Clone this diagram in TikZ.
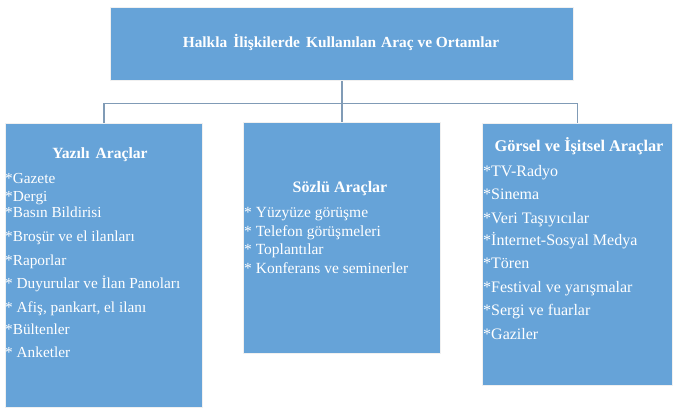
\documentclass[tikz,border=0pt]{standalone}
\usepackage{fontspec}
\setmainfont{Liberation Serif}
\usetikzlibrary{calc}
\definecolor{boxblue}{RGB}{102,163,216}
\definecolor{linkc}{RGB}{128,155,182}
\begin{document}
\begin{tikzpicture}[x=1pt,y=-1pt,
  bluebox/.style={draw=black!6,line width=1.2pt,fill=boxblue,inner sep=0pt,anchor=north west},
  head/.style={text=white,font=\fontsize{15.8}{15.8}\selectfont\bfseries,anchor=base,inner sep=0pt},
  item/.style={text=white,font=\fontsize{15.3}{15.3}\selectfont,anchor=base west,inner sep=0pt},
  mitem/.style={item,font=\fontsize{15.5}{15.5}\selectfont},
  ritem/.style={item,font=\fontsize{16}{16}\selectfont},
  link/.style={draw=linkc,line width=1.3pt}]
\useasboundingbox (0,0) rectangle (675,411);
\fill[white] (0,0) rectangle (675,411);
% boxes
\node[bluebox,minimum width=463pt,minimum height=73pt] (top) at (110,7) {};
\node[bluebox,minimum width=197pt,minimum height=284pt] (left) at (5,123) {};
\node[bluebox,minimum width=197pt,minimum height=231pt] (mid) at (243,122) {};
\node[bluebox,minimum width=190pt,minimum height=262pt] (right) at (482,123) {};
% connectors
\coordinate (hub) at ($(top.south)+(0,22)$);
\draw[link] (top.south) -- (hub);
\draw[link] (hub) -| (left.north);
\draw[link] (hub) -- (mid.north);
\draw[link] (hub) -| (right.north);
% title
\node[head,font=\fontsize{15.4}{15.4}\selectfont\bfseries] (title) at (341,48) {Halkla\hspace{6pt}İlişkilerde\hspace{6pt}Kullanılan\hspace{5pt}Araç ve Ortamlar};
% left
\node[head,font=\fontsize{15.6}{15.6}\selectfont\bfseries] (lh) at (100,159) {Yazılı\hspace{6pt}Araçlar};
\node[item] (l1) at (5,184) {*Gazete};
\node[item] (l2) at (5,202) {*Dergi};
\node[item] (l3) at (5,218) {*Basın Bildirisi};
\node[item] (l4) at (5,242) {*Broşür ve el ilanları};
\node[item] (l5) at (5,266) {*Raporlar};
\node[item] (l6) at (5,289) {* Duyurular ve İlan Panoları};
\node[item] (l7) at (5,313) {* Afiş, pankart, el ilanı};
\node[item] (l8) at (5,335) {*Bültenler};
\node[item] (l9) at (5,358) {* Anketler};
% middle
\node[head,font=\fontsize{16}{16}\selectfont\bfseries] (mh) at (340,193) {Sözlü Araçlar};
\node[mitem] (m1) at (244,218) {* Yüzyüze görüşme};
\node[mitem] (m2) at (244,237) {* Telefon görüşmeleri};
\node[mitem] (m3) at (244,255) {* Toplantılar};
\node[mitem] (m4) at (244,274) {* Konferans ve seminerler};
% right
\node[head,font=\fontsize{16.3}{16.3}\selectfont\bfseries] (rh) at (579,152) {Görsel ve İşitsel Araçlar};
\node[ritem] (r1) at (483,177) {*TV-Radyo};
\node[ritem] (r2) at (483,200) {*Sinema};
\node[ritem] (r3) at (483,224) {*Veri Taşıyıcılar};
\node[ritem] (r4) at (483,246) {*İnternet-Sosyal Medya};
\node[ritem] (r5) at (483,269) {*Tören};
\node[ritem] (r6) at (483,293) {*Festival ve yarışmalar};
\node[ritem] (r7) at (483,316) {*Sergi ve fuarlar};
\node[ritem] (r8) at (483,340) {*Gaziler};
\end{tikzpicture}
\end{document}
